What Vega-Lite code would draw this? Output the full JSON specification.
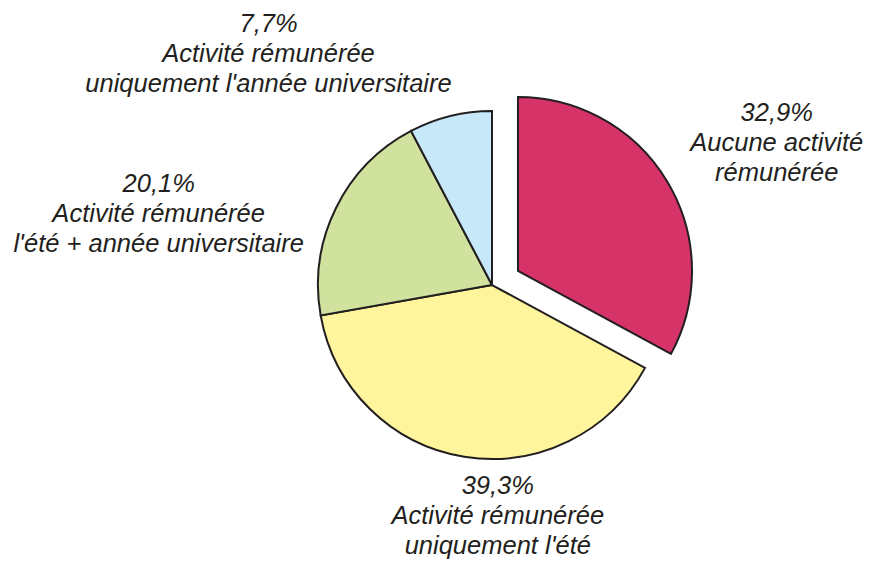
{
  "$schema": "https://vega.github.io/schema/vega-lite/v6.json",
  "autosize": "none",
  "width": 758,
  "height": 556,
  "padding": {"left": 113, "top": 7, "right": 0, "bottom": 0},
  "background": "white",
  "config": {"view": {"stroke": null}},
  "data": {
    "values": [
      {"category": "Aucune activité rémunérée", "order": 1, "value": 32.9, "label": "32,9%\nAucune activité\nrémunérée"},
      {"category": "Activité rémunérée uniquement l'été", "order": 2, "value": 39.3, "label": "39,3%\nActivité rémunérée\nuniquement l'été"},
      {"category": "Activité rémunérée l'été + année universitaire", "order": 3, "value": 20.1, "label": "20,1%\nActivité rémunérée\nl'été + année universitaire"},
      {"category": "Activité rémunérée uniquement l'année universitaire", "order": 4, "value": 7.7, "label": "7,7%\nActivité rémunérée\nuniquement l'année universitaire"}
    ]
  },
  "transform": [
    {"stack": "value", "groupby": [], "sort": [{"field": "order", "order": "ascending"}], "as": ["v0", "v1"]},
    {"calculate": "(datum.v0 + datum.v1) / 2", "as": "mid"}
  ],
  "layer": [
    {
      "transform": [{"filter": "datum.order != 1"}],
      "mark": {"type": "arc", "radius": 174, "stroke": "#231F20", "strokeWidth": 2, "strokeJoin": "miter"},
      "encoding": {
        "theta": {"field": "v0", "type": "quantitative", "scale": {"domain": [0, 100], "range": [0, 6.283185307179586]}},
        "theta2": {"field": "v1"},
        "color": {"field": "category", "type": "nominal", "legend": null,
          "scale": {"domain": ["Aucune activité rémunérée", "Activité rémunérée uniquement l'été", "Activité rémunérée l'été + année universitaire", "Activité rémunérée uniquement l'année universitaire"],
                    "range": ["#D63468", "#FFF59C", "#D0E29D", "#C7E8F9"]}}
      }
    },
    {
      "transform": [{"filter": "datum.order == 1"}],
      "mark": {"type": "arc", "radius": 174, "stroke": "#231F20", "strokeWidth": 2, "strokeJoin": "miter", "xOffset": 26, "yOffset": -14},
      "encoding": {
        "theta": {"field": "v0", "type": "quantitative", "scale": {"domain": [0, 100], "range": [0, 6.283185307179586]}},
        "theta2": {"field": "v1"},
        "color": {"field": "category", "type": "nominal", "legend": null}
      }
    },
    {
      "transform": [{"filter": "datum.order == 1"}],
      "mark": {"type": "text", "radius": 300, "dx": 27, "dy": -18, "align": "center", "baseline": "middle", "lineBreak": "\n", "font": "Liberation Sans", "fontStyle": "italic", "fontSize": 25.5, "lineHeight": 30, "fill": "#231F20"},
      "encoding": {
        "theta": {"field": "mid", "type": "quantitative", "scale": {"domain": [0, 100], "range": [0, 6.283185307179586]}},
        "text": {"field": "label"}
      }
    },
    {
      "transform": [{"filter": "datum.order == 2"}],
      "mark": {"type": "text", "radius": 233, "dx": 43, "dy": -29, "align": "center", "baseline": "middle", "lineBreak": "\n", "font": "Liberation Sans", "fontStyle": "italic", "fontSize": 25.5, "lineHeight": 30, "fill": "#231F20"},
      "encoding": {
        "theta": {"field": "mid", "type": "quantitative", "scale": {"domain": [0, 100], "range": [0, 6.283185307179586]}},
        "text": {"field": "label"}
      }
    },
    {
      "transform": [{"filter": "datum.order == 3"}],
      "mark": {"type": "text", "radius": 340, "dx": -28, "dy": 49, "align": "center", "baseline": "middle", "lineBreak": "\n", "font": "Liberation Sans", "fontStyle": "italic", "fontSize": 25.5, "lineHeight": 30, "fill": "#231F20"},
      "encoding": {
        "theta": {"field": "mid", "type": "quantitative", "scale": {"domain": [0, 100], "range": [0, 6.283185307179586]}},
        "text": {"field": "label"}
      }
    },
    {
      "transform": [{"filter": "datum.order == 4"}],
      "mark": {"type": "text", "radius": 240, "dx": -166, "dy": -28, "align": "center", "baseline": "middle", "lineBreak": "\n", "font": "Liberation Sans", "fontStyle": "italic", "fontSize": 25.5, "lineHeight": 30, "fill": "#231F20"},
      "encoding": {
        "theta": {"field": "mid", "type": "quantitative", "scale": {"domain": [0, 100], "range": [0, 6.283185307179586]}},
        "text": {"field": "label"}
      }
    }
  ]
}
